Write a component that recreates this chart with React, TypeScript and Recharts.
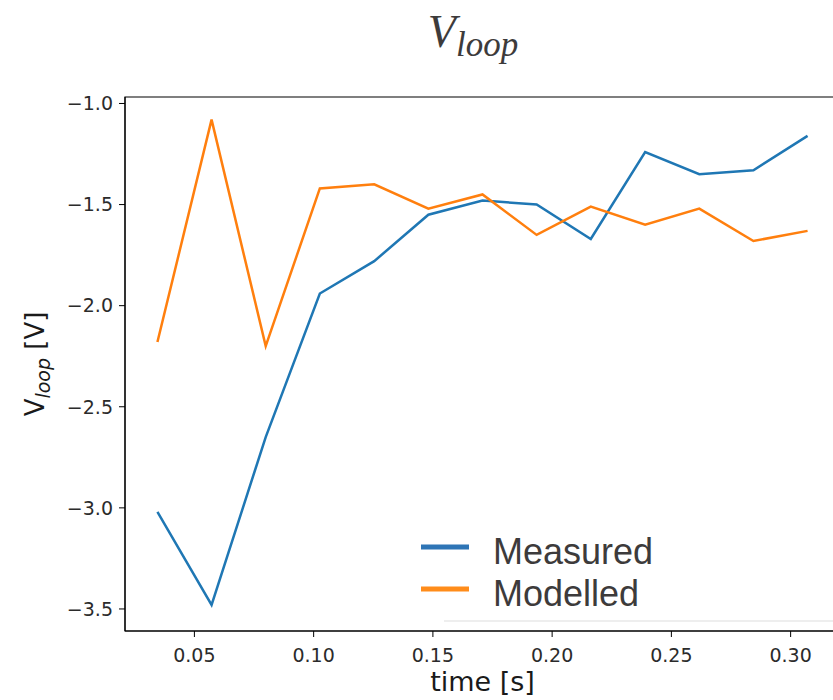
import { Legend, Line, LineChart, ReferenceArea, XAxis, YAxis } from "recharts";

// time [s] of each sample
const TIME = [0.0345, 0.0572, 0.0799, 0.1026, 0.1254, 0.1481, 0.1708, 0.1935, 0.2162, 0.239, 0.2617, 0.2844, 0.3071];
// loop voltage [V]
const MEASURED = [-3.02, -3.48, -2.65, -1.94, -1.78, -1.55, -1.48, -1.5, -1.67, -1.24, -1.35, -1.33, -1.16];
const MODELLED = [-2.18, -1.08, -2.2, -1.42, -1.4, -1.52, -1.45, -1.65, -1.51, -1.6, -1.52, -1.68, -1.63];

const X_TICKS = [0.05, 0.1, 0.15, 0.2, 0.25, 0.3];
const Y_TICKS = [-3.5, -3.0, -2.5, -2.0, -1.5, -1.0];
const X_DOMAIN: [number, number] = [0.0209, 0.3207];
const Y_DOMAIN: [number, number] = [-3.609, -0.968];

const BLUE = "#1f77b4";
const ORANGE = "#ff7f0e";
const TICK = { fontSize: 19, fill: "#2b2b2b", fontFamily: "DejaVu Sans" };

const data = TIME.map((t, i) => ({ t, measured: MEASURED[i], modelled: MODELLED[i] }));

function YLabel({ viewBox }: any) {
  const cy = viewBox.y + viewBox.height / 2;
  const x = 44;
  return (
    <text
      x={x}
      y={cy}
      transform={`rotate(-90 ${x} ${cy})`}
      textAnchor="middle"
      fontFamily="DejaVu Sans"
      fontSize={26}
      fill="#1a1a1a"
    >
      <tspan>V</tspan>
      <tspan fontStyle="italic" fontSize={19} dy={6}>loop</tspan>
      <tspan dy={-6}> [V]</tspan>
    </text>
  );
}

function XLabel({ viewBox }: any) {
  const cx = viewBox.x + viewBox.width / 2;
  return (
    <text x={cx} y={691} textAnchor="middle" fontFamily="DejaVu Sans" fontSize={27} fill="#1a1a1a">
      time [s]
    </text>
  );
}

function LegendBox() {
  const rows = [
    { name: "Measured", color: "#2e75b6" },
    { name: "Modelled", color: "#ff8c1a" },
  ];
  return (
    <svg width={420} height={100} style={{ display: "block" }}>
      <rect x={25} y={0} width={400} height={96} fill="#fff" />
      <line x1={28} x2={420} y1={96} y2={96} stroke="#eeeeee" strokeWidth={2} />
      {rows.map((r, i) => (
        <g key={r.name}>
          <line x1={5} x2={53} y1={22 + i * 42} y2={22 + i * 42} stroke={r.color} strokeWidth={5} />
          <text x={77} y={39 + i * 42} fontFamily="Liberation Sans" fontSize={36} fill="#3d3b3b">
            {r.name}
          </text>
        </g>
      ))}
    </svg>
  );
}

export default function App() {
  return (
    <div style={{ position: "absolute", left: 0, top: 0, width: 833, height: 700, overflow: "hidden", background: "#fff" }}>
      <div
        style={{
          position: "absolute",
          left: 0,
          width: 946,
          top: 8,
          textAlign: "center",
          fontFamily: "Liberation Serif",
          fontStyle: "italic",
          color: "#3d3b3b",
          lineHeight: "48px",
        }}
      >
        <span style={{ fontSize: 46 }}>V</span>
        <span style={{ fontSize: 35, position: "relative", top: 9 }}>loop</span>
      </div>
      <LineChart width={841} height={700} data={data} margin={{ top: 97, right: 1, bottom: 0, left: 0 }}>
        <XAxis
          dataKey="t"
          type="number"
          domain={X_DOMAIN}
          allowDataOverflow
          ticks={X_TICKS}
          tickFormatter={(v: number) => v.toFixed(2)}
          tick={TICK}
          tickSize={6}
          tickMargin={12}
          height={69}
          stroke="#000"
          label={<XLabel />}
        />
        <YAxis
          type="number"
          domain={Y_DOMAIN}
          allowDataOverflow
          ticks={Y_TICKS}
          tickFormatter={(v: number) => v.toFixed(1).replace("-", "\u2212")}
          tick={TICK}
          tickSize={6}
          tickMargin={6}
          width={125}
          stroke="#000"
          label={<YLabel />}
        />
        <ReferenceArea
          x1={X_DOMAIN[0]}
          x2={X_DOMAIN[1]}
          y1={Y_DOMAIN[0]}
          y2={Y_DOMAIN[1]}
          fill="none"
          stroke="#000"
          strokeWidth={1.2}
        />
        <Line dataKey="measured" name="Measured" stroke={BLUE} strokeWidth={2.5} dot={false} isAnimationActive={false} />
        <Line dataKey="modelled" name="Modelled" stroke={ORANGE} strokeWidth={2.5} dot={false} isAnimationActive={false} />
        <Legend
          layout="vertical"
          align="center"
          verticalAlign="middle"
          content={() => <LegendBox />}
          wrapperStyle={{ left: 416, top: 525, width: 420 }}
        />
      </LineChart>
    </div>
  );
}
